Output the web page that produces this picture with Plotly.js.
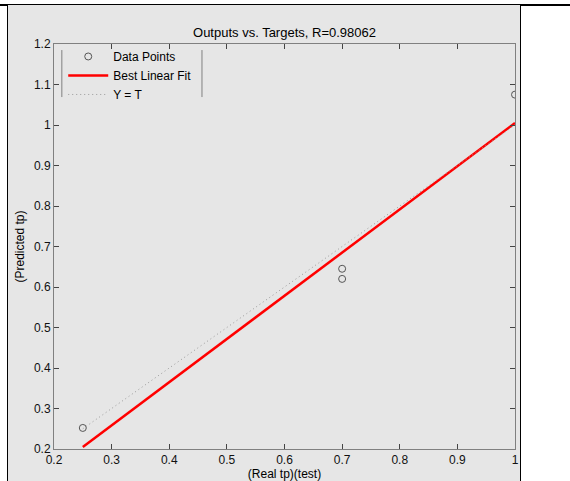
<!DOCTYPE html>
<html>
<head>
<meta charset="utf-8">
<script src="https://cdn.plot.ly/plotly-3.0.1.min.js"></script>
<style>
  html, body { margin: 0; padding: 0; background: #ffffff; width: 570px; height: 481px; overflow: hidden; }
  #topline { position: absolute; left: 0; top: 4px; width: 570px; height: 2px; background: #000; }
  #frame { position: absolute; left: 7px; top: 5px; width: 512px; height: 476px; background: #e6e6e6;
           border-left: 1.5px solid #000; border-right: 1.5px solid #000; }
  #chart { position: absolute; left: 0; top: 0; width: 570px; height: 481px; }
</style>
</head>
<body>
<div id="topline"></div>
<div id="frame"></div>
<div id="chart"></div>
<script>
// Data
const targets   = [0.25, 0.70, 0.70, 1.00];
const outputs   = [0.252, 0.645, 0.620, 1.075];
const fitX      = [0.25, 1.00];
const fitY      = [0.205, 1.005];
const identX    = [0.25, 1.00];
const identY    = [0.25, 1.00];
const xTicks    = [0.2, 0.3, 0.4, 0.5, 0.6, 0.7, 0.8, 0.9, 1.0];
const xTickText = ['0.2', '0.3', '0.4', '0.5', '0.6', '0.7', '0.8', '0.9', '1'];
const yTicks    = [0.2, 0.3, 0.4, 0.5, 0.6, 0.7, 0.8, 0.9, 1.0, 1.1, 1.2];
const yTickText = ['0.2', '0.3', '0.4', '0.5', '0.6', '0.7', '0.8', '0.9', '1', '1.1', '1.2'];
const titleText = 'Outputs vs. Targets, R=0.98062';

const font = 'Liberation Sans, Arial, sans-serif';

const traces = [
  { x: targets, y: outputs, mode: 'markers', name: 'Data Points',
    marker: { symbol: 'circle-open', size: 7, color: '#555', line: { width: 1, color: '#555' } } },
  { x: fitX, y: fitY, mode: 'lines', name: 'Best Linear Fit',
    line: { color: '#ff0000', width: 2.5 } },
  { x: identX, y: identY, mode: 'lines', name: 'Y = T',
    line: { color: '#9a9a9a', width: 1, dash: '1px,3px' } }
];

const axisCommon = {
  showgrid: false, zeroline: false,
  showline: true, linecolor: '#808080', linewidth: 1, mirror: 'ticks',
  ticks: 'inside', ticklen: 5, tickcolor: '#444', tickwidth: 1,
  tickfont: { family: font, size: 12, color: '#111' },
  tickmode: 'array'
};

const layout = {
  width: 570, height: 481,
  margin: { l: 54, r: 55, t: 44, b: 32 },
  paper_bgcolor: 'rgba(0,0,0,0)',
  plot_bgcolor: '#e6e6e6',
  title: { text: titleText, font: { family: font, size: 13, color: '#000' },
           x: 0.5, xanchor: 'center', y: 1 - 32/481, yanchor: 'middle', xref: 'paper' },
  xaxis: Object.assign({}, axisCommon, {
    range: [0.2, 1.0], tickvals: xTicks, ticktext: xTickText,
    title: { text: '(Real tp)(test)', font: { family: font, size: 12, color: '#000' }, standoff: 1 }
  }),
  yaxis: Object.assign({}, axisCommon, {
    range: [0.2, 1.2], tickvals: yTicks, ticktext: yTickText,
    title: { text: '(Predicted tp)', font: { family: font, size: 12, color: '#000' }, standoff: 6 }
  }),
  showlegend: true,
  legend: {
    x: 0.02, y: 1.005, xanchor: 'left', yanchor: 'top',
    bgcolor: 'rgba(0,0,0,0)', borderwidth: 0,
    font: { family: font, size: 12, color: '#000' },
    itemwidth: 40, tracegroupgap: 0
  },
  shapes: [
    { type: 'line', xref: 'paper', yref: 'paper', x0: 0.017, x1: 0.017, y0: 0.869, y1: 0.985,
      line: { color: '#808080', width: 1 } },
    { type: 'line', xref: 'paper', yref: 'paper', x0: 0.321, x1: 0.321, y0: 0.869, y1: 0.985,
      line: { color: '#808080', width: 1 } }
  ]
};

Plotly.newPlot('chart', traces, layout, { displayModeBar: false, staticPlot: true });
</script>
</body>
</html>
